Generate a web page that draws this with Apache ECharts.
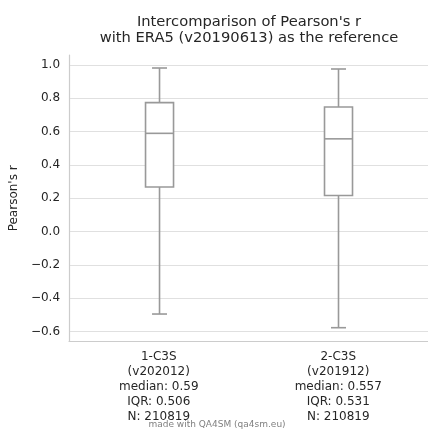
<!DOCTYPE html>
<html><head><meta charset="utf-8">
<script src="https://cdn.jsdelivr.net/npm/echarts@6/dist/echarts.min.js"></script>
<style>html,body{margin:0;padding:0;background:#fff}#c{width:428px;height:429px}</style>
</head><body><div id="c"></div>
<script>
const datasets = ['1-C3S', '2-C3S'];
const versions = ['v202012', 'v201912'];
const medians = ['0.59', '0.557'];
const iqrs = ['0.506', '0.531'];
const counts = ['210819', '210819'];
// [whiskerLow, Q1, median, Q3, whiskerHigh]
const boxValues = [
  [-0.494, 0.268, 0.59, 0.774, 0.982],
  [-0.576, 0.217, 0.557, 0.748, 0.976]
];
const yTicks = { min: -0.6, max: 1.0, step: 0.2 };

const font = 'DejaVu Sans';
const chart = echarts.init(document.getElementById('c'));
const catLabels = datasets.map((d, i) =>
  d + '\n(' + versions[i] + ')\nmedian: ' + medians[i] + '\nIQR: ' + iqrs[i] + '\nN: ' + counts[i]);

chart.setOption({
  animation: false,
  title: {
    text: "Intercomparison of Pearson's r\nwith ERA5 (v20190613) as the reference",
    left: 244, top: 9, textAlign: 'center',
    textStyle: { fontFamily: font, fontSize: 14.7, fontWeight: 'normal', color: '#262626', lineHeight: 16 }
  },
  grid: [
    { left: 69, width: 360, top: 55, bottom: 88, containLabel: false },
    { left: 69, width: 360, top: 65, bottom: 97.3, containLabel: false }
  ],
  xAxis: [
    { gridIndex: 0, type: 'category', data: catLabels,
      axisLine: { show: true, lineStyle: { color: '#cccccc', width: 1.2 } },
      axisTick: { show: false }, splitLine: { show: false },
      axisLabel: { fontFamily: font, fontSize: 12, color: '#262626', lineHeight: 15, margin: 8, interval: 0 } },
    { gridIndex: 1, type: 'category', data: datasets, show: false }
  ],
  yAxis: [
    { gridIndex: 0, type: 'value', min: 0, max: 1,
      axisLine: { show: true, lineStyle: { color: '#cccccc', width: 1.2 } },
      axisTick: { show: false }, axisLabel: { show: false }, splitLine: { show: false } },
    { gridIndex: 1, type: 'value', min: yTicks.min, max: yTicks.max, interval: yTicks.step,
      name: "Pearson's r", nameLocation: 'middle', nameGap: 48,
      nameTextStyle: { fontFamily: font, fontSize: 12, color: '#262626' },
      axisLine: { show: false }, axisTick: { show: false },
      axisLabel: { fontFamily: font, fontSize: 12, color: '#262626', margin: 10,
        formatter: v => (v < 0 ? '\u2212' + Math.abs(v).toFixed(1) : v.toFixed(1)) },
      splitLine: { show: true, lineStyle: { color: '#e0e0e0', width: 1.2 } } }
  ],
  series: [{
    type: 'custom', xAxisIndex: 1, yAxisIndex: 1, clip: false,
    data: boxValues.map((b, i) => [i].concat(b)),
    renderItem: function (params, api) {
      const x = api.value(0);
      const p = k => api.coord([x, api.value(k)]);
      const lo = p(1), q1 = p(2), md = p(3), q3 = p(4), hi = p(5);
      const cx = lo[0], hw = 14, cw = 7.5;
      const st = { stroke: '#999999', lineWidth: 1.6, fill: null };
      return { type: 'group', children: [
        { type: 'line', shape: { x1: cx, y1: hi[1], x2: cx, y2: q3[1] }, style: st },
        { type: 'line', shape: { x1: cx, y1: q1[1], x2: cx, y2: lo[1] }, style: st },
        { type: 'line', shape: { x1: cx - cw, y1: hi[1], x2: cx + cw, y2: hi[1] }, style: st },
        { type: 'line', shape: { x1: cx - cw, y1: lo[1], x2: cx + cw, y2: lo[1] }, style: st },
        { type: 'rect', shape: { x: cx - hw, y: q3[1], width: 2 * hw, height: q1[1] - q3[1] },
          style: { stroke: '#999999', lineWidth: 1.6, fill: '#ffffff' } },
        { type: 'line', shape: { x1: cx - hw, y1: md[1], x2: cx + hw, y2: md[1] }, style: st }
      ]};
    }
  }],
  graphic: [{
    type: 'text',
    style: { x: 217, y: 425, text: 'made with QA4SM (qa4sm.eu)', fontFamily: font, fontSize: 9,
      fill: '#808080', align: 'center', verticalAlign: 'middle' }
  }]
});
</script></body></html>
